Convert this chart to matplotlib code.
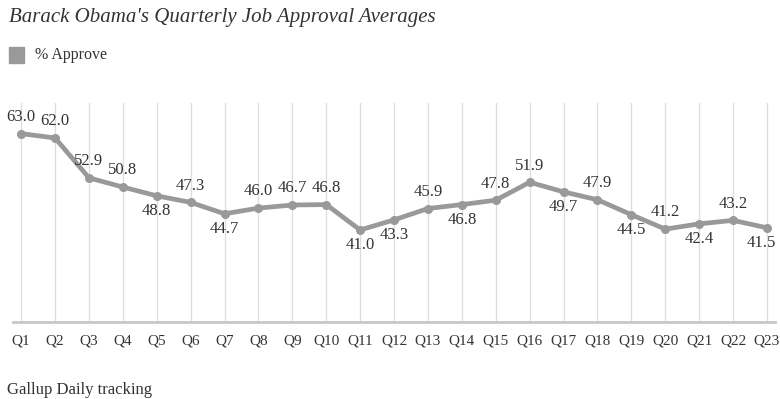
import matplotlib.pyplot as plt
from matplotlib.patches import Rectangle

quarters = [f"Q{i}" for i in range(1, 24)]
approve = [63.0, 62.0, 52.9, 50.8, 48.8, 47.3, 44.7, 46.0, 46.7, 46.8, 41.0, 43.3,
           45.9, 46.8, 47.8, 51.9, 49.7, 47.9, 44.5, 41.2, 42.4, 43.2, 41.5]
# label placement: True = above the point, False = below
label_above = [True, True, True, True, False, True, False, True, True, True, False, False,
               True, False, True, True, False, True, False, True, False, True, False]

line_color = "#999999"
text_color = "#333333"
serif = ["Liberation Serif", "DejaVu Serif"]

fig = plt.figure(figsize=(7.8, 3.99), dpi=100)
ax = fig.add_axes([0.0167, 0.193, 0.977, 0.549])

x = list(range(len(quarters)))
ax.plot(x, approve, color=line_color, lw=3.4, marker="o", ms=5.5,
        solid_joinstyle="round", zorder=3)

for xi, v, up in zip(x, approve, label_above):
    # keep the last label inside the figure edge
    dx = -4 if xi == x[-1] else 0
    ax.annotate(f"{v:.1f}", (xi, v), xytext=(dx, 12 if up else -11),
                textcoords="offset points", ha="center", va="center",
                fontsize=12, color=text_color, family=serif, zorder=4)

ax.set_xlim(-0.24, 22.24)
ax.set_ylim(20, 70)
for xi in x:
    ax.axvline(xi, color="#dddddd", lw=0.9, zorder=1)

ax.set_xticks(x)
ax.set_xticklabels(quarters, fontsize=11, color=text_color, family=serif)
ax.tick_params(axis="x", length=0, pad=9)
ax.set_yticks([])
for side in ["top", "left", "right"]:
    ax.spines[side].set_visible(False)
ax.spines["bottom"].set_color("#c8c8c8")
ax.spines["bottom"].set_linewidth(2)

fig.text(0.011, 0.955, "Barack Obama's Quarterly Job Approval Averages",
         fontsize=15, style="italic", color=text_color, family=serif, va="center")
fig.patches.append(Rectangle((0.011, 0.842), 0.02, 0.04, transform=fig.transFigure,
                             color=line_color, figure=fig))
fig.text(0.045, 0.861, "% Approve", fontsize=11.5, color=text_color, family=serif,
         va="center")
fig.text(0.009, 0.022, "Gallup Daily tracking", fontsize=12, color=text_color,
         family=serif, va="center")

fig.savefig("out.png", dpi=100)
